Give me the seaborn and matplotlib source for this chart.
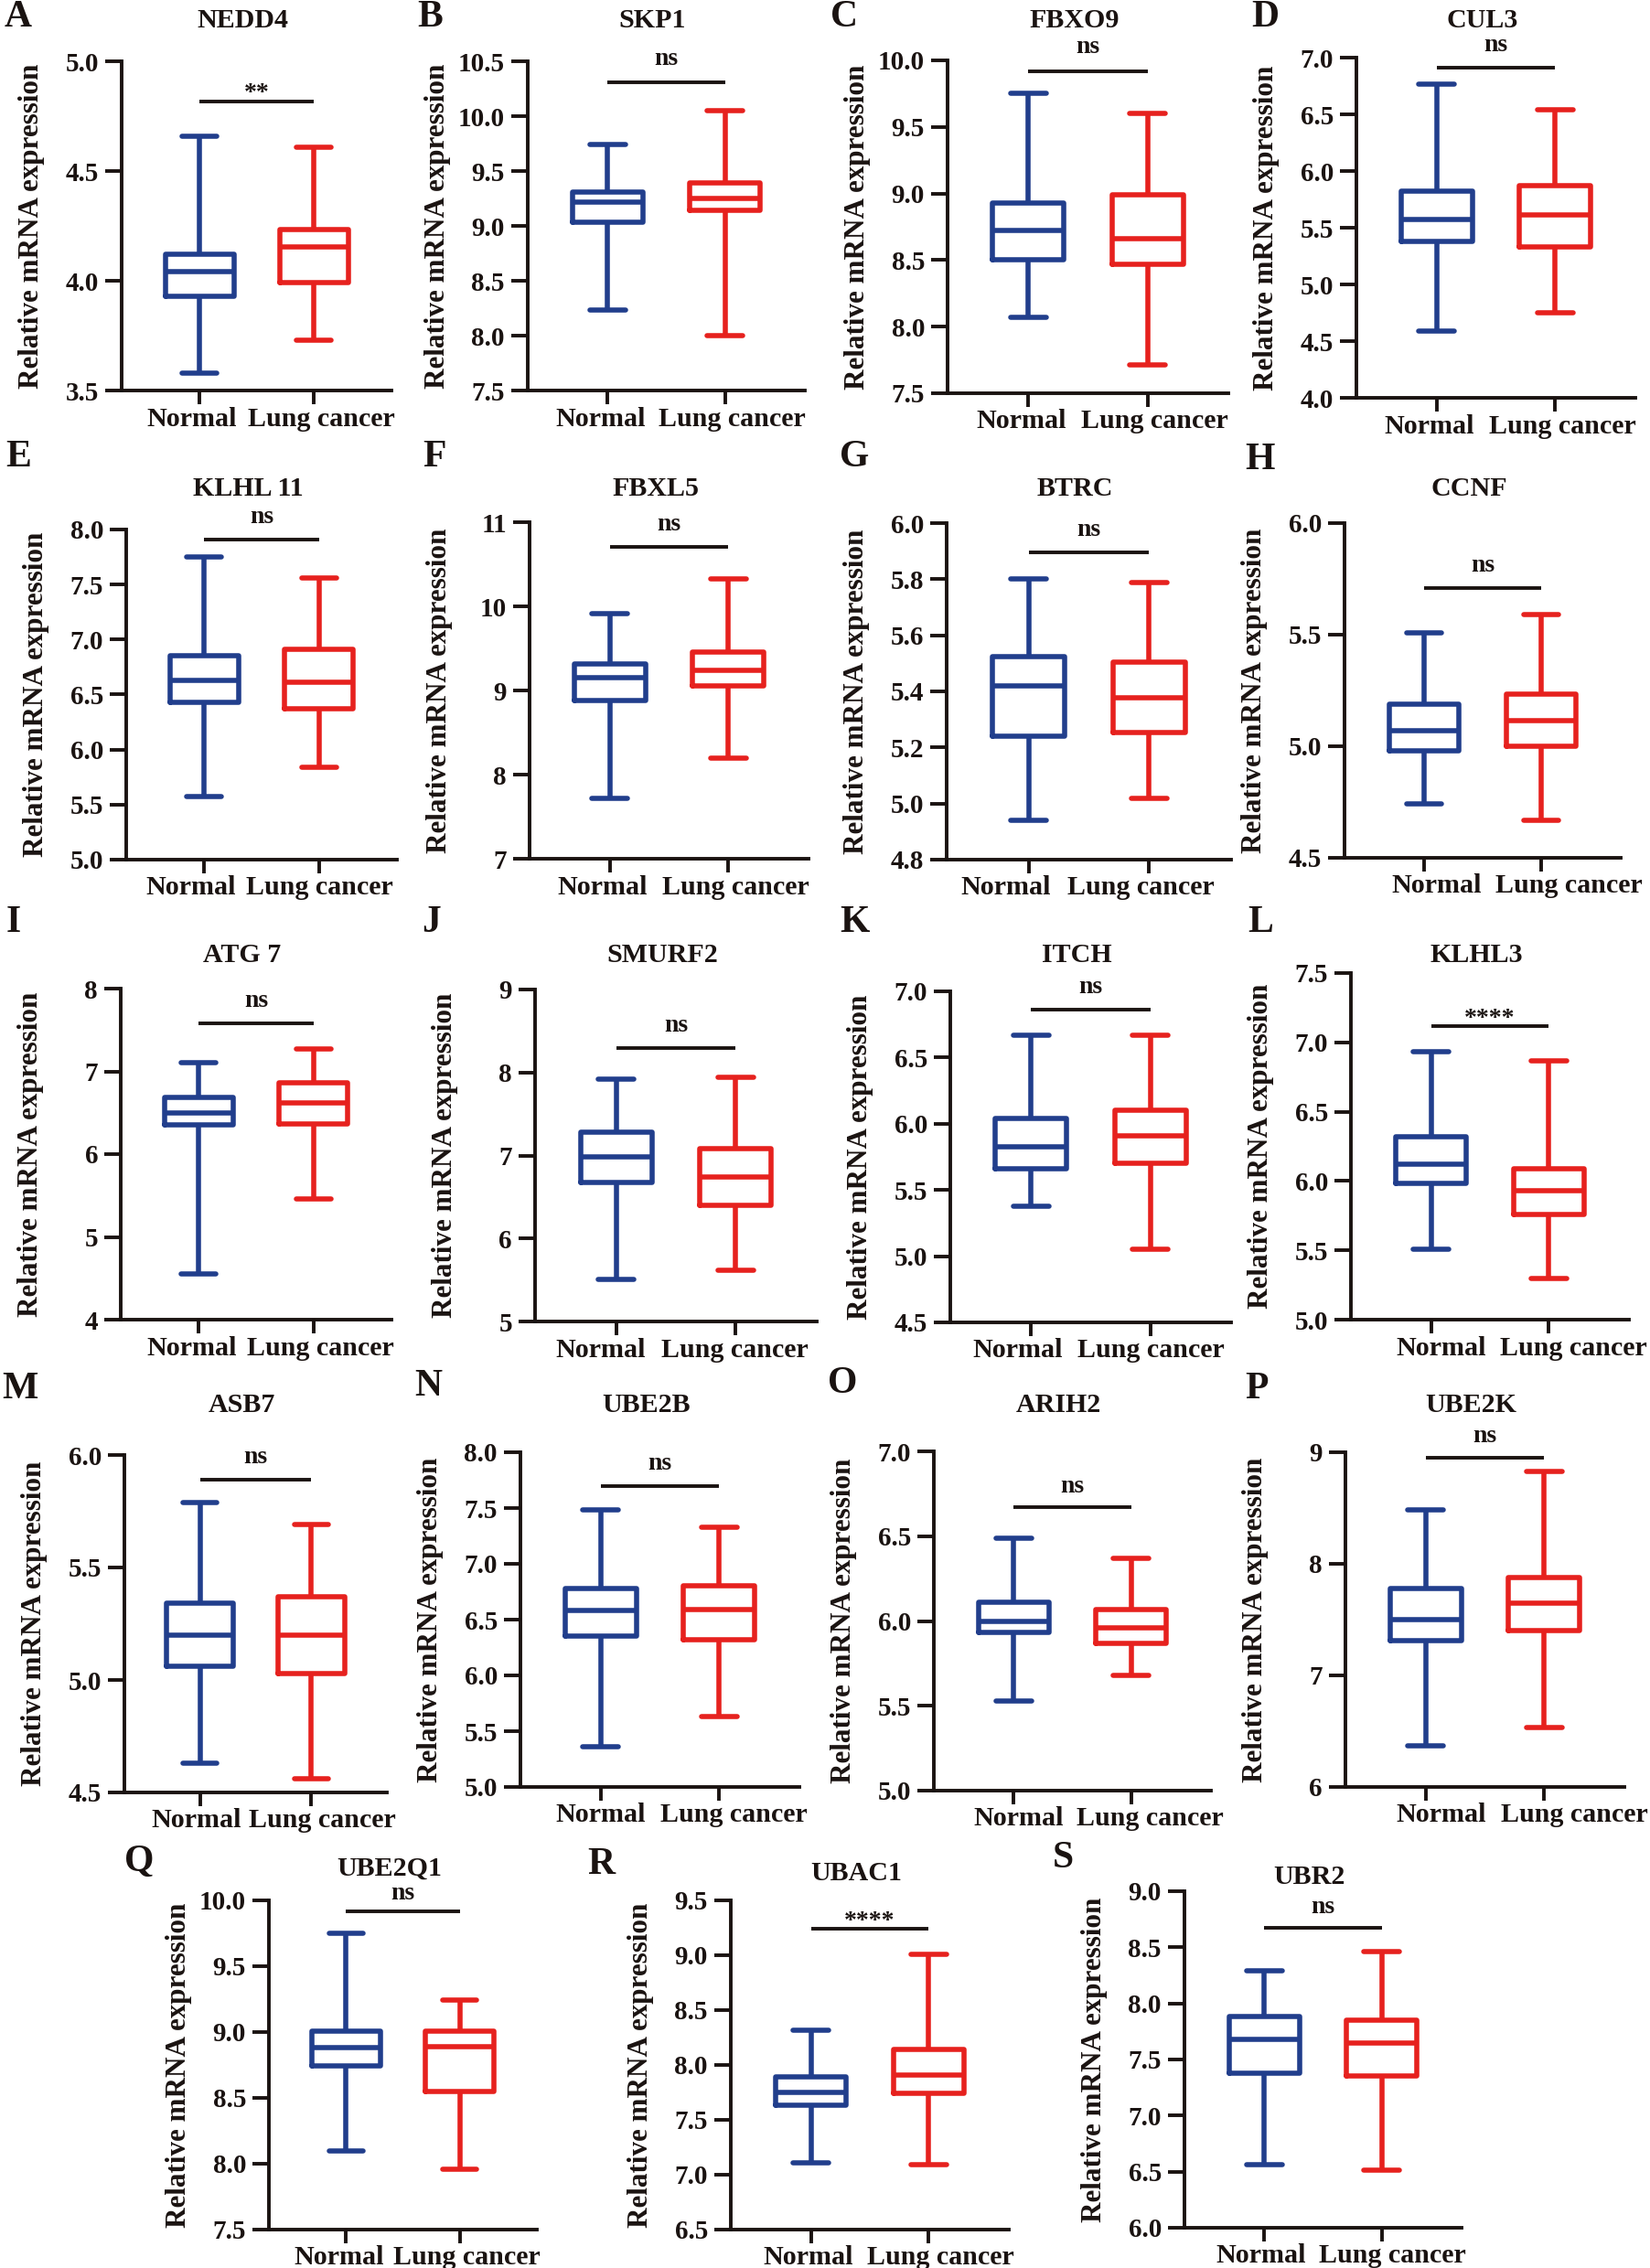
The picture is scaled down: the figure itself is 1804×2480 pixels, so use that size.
import numpy as np
import pandas as pd
import matplotlib
matplotlib.use("Agg")
import matplotlib.pyplot as plt
import matplotlib.transforms as mtransforms
from matplotlib.ticker import FormatStrFormatter
import seaborn as sns

# ---- data ----
groups = ["Normal", "Lung cancer"]
letters = list("ABCDEFGHIJKLMNOPQRS")
genes = ["NEDD4", "SKP1", "FBXO9", "CUL3",
         "KLHL 11", "FBXL5", "BTRC", "CCNF",
         "ATG 7", "SMURF2", "ITCH", "KLHL3",
         "ASB7", "UBE2B", "ARIH2", "UBE2K",
         "UBE2Q1", "UBAC1", "UBR2"]
signif = ["**", "ns", "ns", "ns",
          "ns", "ns", "ns", "ns",
          "ns", "ns", "ns", "****",
          "ns", "ns", "ns", "ns",
          "ns", "****", "ns"]

# min, q1, median, q3, max
normal_stats = [
    [3.58, 3.93, 4.04, 4.12, 4.66],
    [8.23, 9.03, 9.22, 9.31, 9.74],
    [8.07, 8.50, 8.72, 8.93, 9.75],
    [4.59, 5.38, 5.57, 5.82, 6.77],
    [5.57, 6.43, 6.63, 6.85, 7.75],
    [7.72, 8.88, 9.15, 9.32, 9.91],
    [4.94, 5.24, 5.42, 5.525, 5.80],
    [4.74, 4.98, 5.07, 5.19, 5.51],
    [4.55, 6.35, 6.50, 6.69, 7.11],
    [5.51, 6.67, 6.98, 7.28, 7.92],
    [5.38, 5.66, 5.825, 6.04, 6.67],
    [5.505, 5.98, 6.12, 6.32, 6.93],
    [4.63, 5.06, 5.20, 5.34, 5.79],
    [5.36, 6.35, 6.58, 6.78, 7.48],
    [5.53, 5.93, 6.00, 6.11, 6.49],
    [6.37, 7.31, 7.50, 7.78, 8.48],
    [8.10, 8.74, 8.88, 9.01, 9.75],
    [7.11, 7.63, 7.75, 7.89, 8.32],
    [6.56, 7.38, 7.68, 7.88, 8.29],
]
cancer_stats = [
    [3.73, 3.99, 4.155, 4.235, 4.61],
    [8.00, 9.14, 9.25, 9.39, 10.05],
    [7.71, 8.47, 8.66, 8.99, 9.60],
    [4.75, 5.33, 5.61, 5.87, 6.54],
    [5.84, 6.37, 6.61, 6.91, 7.56],
    [8.20, 9.05, 9.24, 9.46, 10.33],
    [5.017, 5.254, 5.376, 5.503, 5.789],
    [4.67, 5.00, 5.116, 5.232, 5.59],
    [5.46, 6.37, 6.62, 6.86, 7.27],
    [5.62, 6.40, 6.74, 7.08, 7.94],
    [5.05, 5.70, 5.91, 6.10, 6.67],
    [5.30, 5.76, 5.93, 6.09, 6.87],
    [4.56, 5.03, 5.20, 5.37, 5.69],
    [5.63, 6.32, 6.59, 6.80, 7.33],
    [5.68, 5.87, 5.96, 6.07, 6.37],
    [6.53, 7.40, 7.65, 7.88, 8.83],
    [7.96, 8.55, 8.89, 9.01, 9.24],
    [7.09, 7.74, 7.91, 8.14, 9.01],
    [6.51, 7.35, 7.65, 7.85, 8.46],
]

y_lo = [3.5, 7.5, 7.5, 4.0, 5.0, 7, 4.8, 4.5, 4, 5, 4.5, 5.0, 4.5, 5.0, 5.0, 6, 7.5, 6.5, 6.0]
y_hi = [5.0, 10.5, 10.0, 7.0, 8.0, 11, 6.0, 6.0, 8, 9, 7.0, 7.5, 6.0, 8.0, 7.0, 9, 10.0, 9.5, 9.0]
y_step = [0.5, 0.5, 0.5, 0.5, 0.5, 1, 0.2, 0.5, 1, 1, 0.5, 0.5, 0.5, 0.5, 0.5, 1, 0.5, 0.5, 0.5]
y_fmt = ["%.1f"] * 5 + ["%d", "%.1f", "%.1f", "%d", "%d"] + ["%.1f"] * 5 + ["%d"] + ["%.1f"] * 3

# significance bar height and label centre (data units)
sig_y = [4.818, 10.31, 9.92, 6.91, 7.91, 10.71, 5.895, 5.711, 7.58, 8.30,
         6.86, 7.12, 5.89, 7.70, 6.67, 8.95, 9.92, 9.24, 8.67]
sig_text_y = [4.88, 10.52, 10.10, 7.11, 8.11, 10.97, 5.974, 5.81, 7.85, 8.56,
              7.03, 7.21, 5.99, 7.90, 6.79, 9.145, 10.05, 9.36, 8.86]

# ---- layout (pixels of the 1804 x 2480 canvas) ----
W, H, DPI = 1804, 2480, 200
axes_px = [  # left, top, right, bottom
    (133, 67, 428, 427), (577, 67, 880, 427), (1036, 66, 1343, 430), (1483, 63, 1788, 435),
    (138, 579, 434, 940), (579, 571, 884, 939), (1035, 572, 1346, 940), (1470, 572, 1772, 938),
    (132, 1081, 428, 1443), (585, 1082, 893, 1445), (1039, 1084, 1346, 1446), (1477, 1064, 1781, 1443),
    (136, 1591, 423, 1960), (569, 1588, 874, 1954), (1021, 1587, 1324, 1958), (1471, 1588, 1776, 1954),
    (294, 2078, 587, 2438), (799, 2078, 1103, 2438), (1295, 2068, 1598, 2436),
]
# extra horizontal shift of the pair of category labels
xlab_shift = [0, 0, 0, 0, -7, 0, -17, 22, 0, -9, -7, 19, 4, 8, 13, 25, 0, 5, 4]
title_y = [22] * 4 + [535] * 4 + [1045] * 4 + [1537] * 4 + [2043, 2048, 2053]
letter_xy = [(20, 19), (470, 19), (923, 19), (1383, 19),
             (20, 500), (475, 500), (934, 500), (1378, 503),
             (15, 1009), (472, 1009), (934, 1009), (1378, 1009),
             (22, 1519), (468, 1516), (921, 1513), (1374, 1519),
             (152, 2036), (657, 2039), (1162, 2032)]

blue = "#213E8C"
red = "#E6211E"
ink = "#1A1311"

sns.set_style("ticks")
plt.rcParams["font.family"] = ["Liberation Serif", "DejaVu Serif"]
plt.rcParams["font.weight"] = "bold"
plt.rcParams["axes.labelweight"] = "bold"
plt.rcParams["text.color"] = ink
plt.rcParams["axes.labelcolor"] = ink
plt.rcParams["xtick.color"] = ink
plt.rcParams["ytick.color"] = ink

fig = plt.figure(figsize=(W / DPI, H / DPI), dpi=DPI)
px = 72.0 / DPI  # one canvas pixel in points


def shift(dx, dy=0):
    return mtransforms.ScaledTranslation(dx * px / 72, dy * px / 72, fig.dpi_scale_trans)


for i, gene in enumerate(genes):
    l, t, r, b = axes_px[i]
    ax = fig.add_axes([l / W, 1 - b / H, (r - l) / W, (b - t) / H])
    df = pd.DataFrame({
        "group": np.repeat(groups, 5),
        "value": normal_stats[i] + cancer_stats[i],
    })
    sns.boxplot(data=df, x="group", y="value", hue="group", order=groups,
                hue_order=groups, palette=[blue, red], fill=False, width=0.6,
                linewidth=2.0, whis=(0, 100), legend=False, ax=ax)

    ax.set_xlim(-0.68, 1.68)
    ax.set_ylim(y_lo[i], y_hi[i])
    ticks = np.round(np.arange(y_lo[i], y_hi[i] + y_step[i] / 2, y_step[i]), 2)
    ax.set_yticks(ticks)
    ax.yaxis.set_major_formatter(FormatStrFormatter(y_fmt[i]))
    ax.set_xticks([0, 1])
    ax.set_xticklabels(groups)
    ax.set_xlabel("")
    ax.set_ylabel("Relative mRNA expression", fontsize=11.2, fontweight="bold")
    ax.yaxis.set_label_coords(-84 / (r - l), 0.5)

    sns.despine(ax=ax)
    for s in ["left", "bottom"]:
        ax.spines[s].set_linewidth(1.4)
        ax.spines[s].set_color(ink)
    ax.tick_params(axis="y", length=6.5, width=1.4, pad=2.5, labelsize=10.5)
    ax.tick_params(axis="x", length=5.5, width=1.4, pad=0.8, labelsize=10.8)

    # spread the two category labels apart like the original
    for lab, dx in zip(ax.get_xticklabels(), [-8, 8]):
        lab.set_transform(lab.get_transform() + shift(dx + xlab_shift[i]))

    # significance bar
    ax.plot([0, 1], [sig_y[i], sig_y[i]], color=ink, lw=1.4, clip_on=False,
            solid_capstyle="butt")
    txt = ax.text(0.5, sig_text_y[i], signif[i], ha="center", va="center",
                  fontsize=10, fontweight="bold", clip_on=False)
    if "*" in signif[i]:
        txt.set_transform(txt.get_transform() + shift(0, -7))

    # gene title and panel letter
    fig.text(((l + r) / 2 - 15) / W, 1 - title_y[i] / H, gene, ha="center",
             va="center", fontsize=10.8, fontweight="bold")
    lx, ly = letter_xy[i]
    fig.text(lx / W, 1 - ly / H, letters[i], ha="center", va="center",
             fontsize=15, fontweight="bold")

fig.savefig("out.png", dpi=DPI, facecolor="white")
